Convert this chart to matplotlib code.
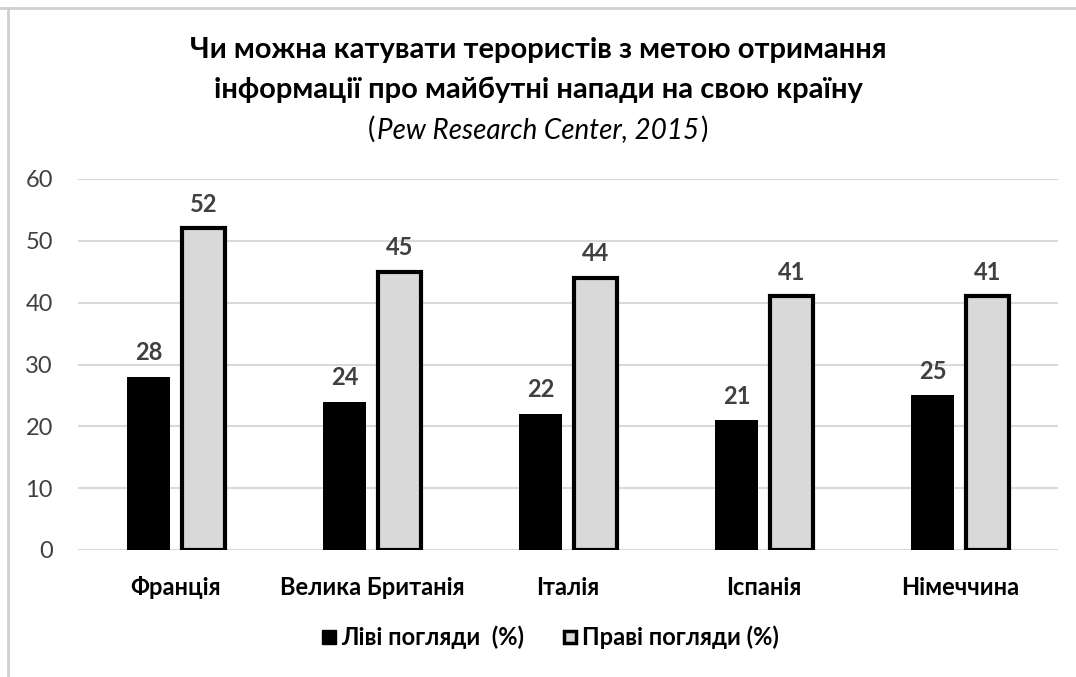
import matplotlib

matplotlib.use("Agg")
import matplotlib.pyplot as plt
import numpy as np
from matplotlib.lines import Line2D

plt.rcParams["font.family"] = ["Lato", "DejaVu Sans"]

countries = ["Франція", "Велика Британія", "Італія", "Іспанія", "Німеччина"]
left_views = [28, 24, 22, 21, 25]
right_views = [52, 45, 44, 41, 41]
series_names = ["Ліві погляди  (%)", "Праві погляди (%)"]
y_ticks = [0, 10, 20, 30, 40, 50, 60]

TEXT_GREY = "#404040"
GRID_GREY = "#d9d9d9"

fig = plt.figure(figsize=(10.76, 6.77), dpi=100)
ax = fig.add_axes([78 / 1076, 1 - 550 / 677, 980 / 1076, 371 / 677])

x = np.arange(len(countries))
width = 0.22
b1 = ax.bar(x - 0.14, left_views, width, color="black", edgecolor="black", linewidth=0, zorder=3)
b2 = ax.bar(x + 0.14, right_views, width, color="#d9d9d9", edgecolor="black", linewidth=3, zorder=3)

for bars, vals in ((b1, left_views), (b2, right_views)):
    for bar, v in zip(bars, vals):
        ax.annotate(f"{v}", (bar.get_x() + bar.get_width() / 2, v), xytext=(0, 9),
                    textcoords="offset points", ha="center", va="bottom",
                    fontsize=17, fontweight="bold", color=TEXT_GREY)

ax.set_xlim(-0.5, len(countries) - 0.5)
ax.set_ylim(0, 60)
ax.set_yticks(y_ticks)
ax.set_xticks(x)
ax.set_xticklabels(countries, fontsize=17, fontweight="bold", color="black")
ax.tick_params(axis="y", length=0, labelsize=17, labelcolor=TEXT_GREY, pad=18)
ax.tick_params(axis="x", length=0, pad=19)
ax.grid(axis="y", color=GRID_GREY, linewidth=1.5, zorder=0)
for s in ax.spines.values():
    s.set_visible(False)

# title
fig.text(0.5, 1 - 50 / 677, "Чи можна катувати терористів з метою отримання",
         ha="center", va="center", fontsize=21, fontweight="bold")
fig.text(0.5, 1 - 90 / 677, "інформації про майбутні напади на свою країну",
         ha="center", va="center", fontsize=21, fontweight="bold")
mid = fig.text(0.5, 1 - 130 / 677, "Pew Research Center, 2015", ha="center", va="center",
               fontsize=20, style="italic")
fig.canvas.draw()
ax.annotate("(", xy=(0, 0), xycoords=mid, ha="right", va="bottom", fontsize=20,
            xytext=(-1, 0), textcoords="offset points", annotation_clip=False)
ax.annotate(")", xy=(1, 0), xycoords=mid, ha="left", va="bottom", fontsize=20,
            xytext=(1, 0), textcoords="offset points", annotation_clip=False)

handles = [
    Line2D([], [], marker="s", linestyle="none", markersize=10, markerfacecolor="black",
           markeredgecolor="black"),
    Line2D([], [], marker="s", linestyle="none", markersize=9, markerfacecolor="#d9d9d9",
           markeredgecolor="black", markeredgewidth=2.5),
]
fig.legend(handles, series_names, loc="center", bbox_to_anchor=(550 / 1076, 1 - 637 / 677),
           ncol=2, frameon=False, prop={"size": 17, "weight": "bold"},
           handletextpad=0.15, columnspacing=1.6, handlelength=0.7)

# frame lines of the original screenshot
fig.add_artist(Line2D([0, 1], [1 - 8 / 677, 1 - 8 / 677], color="#d0d0d0", linewidth=2))
fig.add_artist(Line2D([8 / 1076, 8 / 1076], [0, 1 - 8 / 677], color="#d0d0d0", linewidth=2))

fig.savefig("out.png", dpi=100)
plt.close(fig)
